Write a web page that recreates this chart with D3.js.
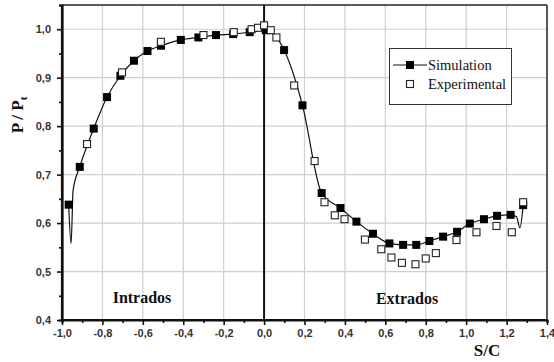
<!DOCTYPE html>
<html>
<head>
<meta charset="utf-8">
<script src="https://cdn.jsdelivr.net/npm/d3@7"></script>
<style>
  body { margin: 0; background: #fff; }
  svg { display: block; }
</style>
</head>
<body>
<svg id="chart" width="554" height="362"></svg>
<script>
// simulation markers (filled squares)
const simS = [-0.967, -0.912, -0.843, -0.777, -0.711, -0.644, -0.577, -0.510, -0.412, -0.325, -0.238, -0.153, -0.071, 0.008,
  0.099, 0.190, 0.285, 0.378, 0.457, 0.539, 0.620, 0.688, 0.753, 0.818, 0.886, 0.955, 1.018, 1.088, 1.153, 1.220, 1.282];
const simP = [0.638, 0.716, 0.795, 0.860, 0.904, 0.935, 0.955, 0.966, 0.978, 0.983, 0.988, 0.990, 0.994, 0.998,
  0.957, 0.843, 0.662, 0.631, 0.603, 0.578, 0.558, 0.555, 0.555, 0.563, 0.572, 0.582, 0.599, 0.608, 0.615, 0.617, 0.637];

// extra points on the simulation curve (the spikes at both ends)
const tipS = [-0.955, -0.945, 1.249, 1.266];
const tipP = [0.558, 0.668, 0.613, 0.590];

// experimental (open squares)
const expS = [-0.876, -0.703, -0.511, -0.300, -0.150, -0.062, -0.030, 0.000, 0.033, 0.061, 0.149, 0.250, 0.299, 0.350,
  0.398, 0.499, 0.580, 0.630, 0.682, 0.749, 0.800, 0.850, 0.952, 1.051, 1.150, 1.226, 1.282];
const expP = [0.763, 0.911, 0.974, 0.988, 0.994, 1.000, 1.003, 1.008, 0.998, 0.983, 0.884, 0.728, 0.643, 0.616,
  0.608, 0.566, 0.546, 0.529, 0.518, 0.515, 0.527, 0.538, 0.565, 0.581, 0.594, 0.581, 0.643];

const xTicks = [-1.0, -0.8, -0.6, -0.4, -0.2, 0.0, 0.2, 0.4, 0.6, 0.8, 1.0, 1.2, 1.4];
const yTicks = [0.4, 0.5, 0.6, 0.7, 0.8, 0.9, 1.0];
const legendLabels = ["Simulation", "Experimental"];

const svg = d3.select("#chart");
const margin = {top: 5, right: 7, bottom: 42, left: 62};
const W = 554, H = 362;

const x = d3.scaleLinear().domain([-1.0, 1.4]).range([margin.left, W - margin.right]);
const y = d3.scaleLinear().domain([0.4, 1.05]).range([H - margin.bottom, margin.top]);

const fmt = d => d3.format(".1f")(d).replace(".", ",").replace("−", "-");

// grid
const grid = svg.append("g");
grid.selectAll(".gx").data(xTicks.filter(d => d > -1 && d < 1.4 && d !== 0))
  .join("line")
  .attr("x1", d => x(d)).attr("x2", d => x(d))
  .attr("y1", y(0.4)).attr("y2", y(1.05))
  .attr("stroke", "#cfcfcf").attr("stroke-width", 1.2);
grid.selectAll(".gy").data(yTicks.filter(d => d > 0.4))
  .join("line")
  .attr("x1", x(-1)).attr("x2", x(1.4))
  .attr("y1", d => y(d)).attr("y2", d => y(d))
  .attr("stroke", "#cfcfcf").attr("stroke-width", 1.2);

// top & right frame
svg.append("line").attr("x1", x(-1)).attr("x2", x(1.4)).attr("y1", y(1.05)).attr("y2", y(1.05))
  .attr("stroke", "#222").attr("stroke-width", 1.5);
svg.append("line").attr("x1", x(1.4)).attr("x2", x(1.4)).attr("y1", y(1.05)).attr("y2", y(0.4))
  .attr("stroke", "#222").attr("stroke-width", 1.5);

// vertical line at S/C = 0
svg.append("line").attr("x1", x(0)).attr("x2", x(0)).attr("y1", y(1.05)).attr("y2", y(0.4))
  .attr("stroke", "#111").attr("stroke-width", 2);

// axes
const xAxis = svg.append("g")
  .attr("transform", `translate(0,${y(0.4)})`)
  .call(d3.axisBottom(x).tickValues(xTicks).tickFormat(fmt).tickSizeOuter(0).tickSize(5).tickPadding(4));
const xMinor = svg.append("g")
  .attr("transform", `translate(0,${y(0.4)})`)
  .call(d3.axisBottom(x).tickValues(d3.range(-0.9, 1.4, 0.2)).tickFormat("").tickSizeOuter(0).tickSize(3));
const yAxis = svg.append("g")
  .attr("transform", `translate(${x(-1)},0)`)
  .call(d3.axisLeft(y).tickValues(yTicks).tickFormat(fmt).tickSizeOuter(0).tickSize(5).tickPadding(6));
const yMinor = svg.append("g")
  .attr("transform", `translate(${x(-1)},0)`)
  .call(d3.axisLeft(y).tickValues(d3.range(0.45, 1.05, 0.1)).tickFormat("").tickSizeOuter(0).tickSize(3));

[xAxis, yAxis, xMinor, yMinor].forEach(a => {
  a.select(".domain").attr("stroke", "#111").attr("stroke-width", 2.2);
  a.selectAll(".tick line").attr("stroke", "#111").attr("stroke-width", 1.6);
  a.selectAll("text")
    .attr("font-family", "Liberation Sans, Arial, sans-serif")
    .attr("font-weight", "bold")
    .attr("font-size", 11)
    .attr("fill", "#333");
});
yAxis.select(".domain").attr("d", `M0,${y(0.4)}V${y(1.05)}`);
xAxis.select(".domain").attr("d", `M${x(-1)},0H${x(1.4)}`);

// simulation curve
const simPts = simS.map((s, i) => [s, simP[i]])
  .concat(tipS.map((s, i) => [s, tipP[i]]))
  .sort((a, b) => a[0] - b[0]);
const line = d3.line().x(d => x(d[0])).y(d => y(d[1])).curve(d3.curveMonotoneX);
svg.append("path").datum(simPts)
  .attr("d", line).attr("fill", "none").attr("stroke", "#111").attr("stroke-width", 1.2);

const sq = 8;
svg.append("g").selectAll("rect").data(simS.map((s, i) => [s, simP[i]]))
  .join("rect")
  .attr("x", d => x(d[0]) - sq / 2).attr("y", d => y(d[1]) - sq / 2)
  .attr("width", sq).attr("height", sq)
  .attr("fill", "#000");

svg.append("g").selectAll("rect").data(expS.map((s, i) => [s, expP[i]]))
  .join("rect")
  .attr("x", d => x(d[0]) - (sq - 1) / 2).attr("y", d => y(d[1]) - (sq - 1) / 2)
  .attr("width", sq - 1).attr("height", sq - 1)
  .attr("fill", "#fff").attr("stroke", "#222").attr("stroke-width", 1.1);

// legend
const lg = svg.append("g");
lg.append("rect").attr("x", 389.5).attr("y", 48.5).attr("width", 122).attr("height", 56)
  .attr("fill", "#fff").attr("stroke", "#333").attr("stroke-width", 1);
lg.append("line").attr("x1", 393).attr("x2", 427).attr("y1", 65).attr("y2", 65)
  .attr("stroke", "#111").attr("stroke-width", 1.2);
lg.append("rect").attr("x", 406).attr("y", 61).attr("width", 8).attr("height", 8).attr("fill", "#000");
lg.append("rect").attr("x", 406.5).attr("y", 80.5).attr("width", 7).attr("height", 7)
  .attr("fill", "#fff").attr("stroke", "#222").attr("stroke-width", 1.1);
lg.selectAll("text").data(legendLabels).join("text")
  .attr("x", 428).attr("y", (d, i) => 65 + i * 19)
  .attr("dy", "0.35em")
  .attr("font-family", "Liberation Serif, Times New Roman, serif")
  .attr("font-size", 14.5)
  .attr("fill", "#111")
  .text(d => d);

// annotations
const serifBold = sel => sel.attr("font-family", "Liberation Serif, Times New Roman, serif")
  .attr("font-weight", "bold").attr("fill", "#111");
svg.append("text").attr("x", 142).attr("y", 303).attr("text-anchor", "middle")
  .attr("font-size", 16).call(serifBold).text("Intrados");
svg.append("text").attr("x", 407).attr("y", 304).attr("text-anchor", "middle")
  .attr("font-size", 16).call(serifBold).text("Extrados");

// axis titles
svg.append("text").attr("x", 487).attr("y", 356).attr("text-anchor", "middle")
  .attr("font-size", 17).call(serifBold).text("S/C");
const yt = svg.append("text")
  .attr("transform", `translate(23,115) rotate(-90)`)
  .attr("text-anchor", "middle")
  .attr("font-size", 17).call(serifBold);
yt.append("tspan").text("P / P");
yt.append("tspan").attr("font-size", 11).attr("dy", 4).text("t");
</script>
</body>
</html>
